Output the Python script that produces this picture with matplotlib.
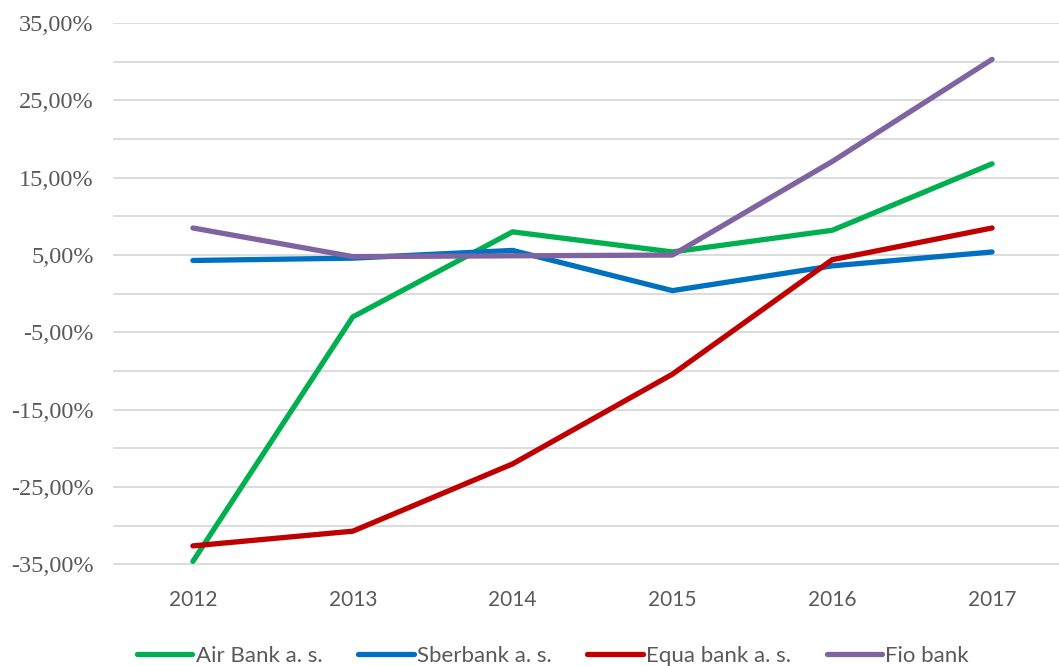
import matplotlib
matplotlib.use("Agg")
import matplotlib.pyplot as plt
from matplotlib.ticker import FuncFormatter, FixedLocator, MultipleLocator

years = ["2012", "2013", "2014", "2015", "2016", "2017"]
air_bank = [-34.6, -3.0, 8.0, 5.4, 8.2, 16.8]
sberbank = [4.3, 4.6, 5.6, 0.4, 3.6, 5.4]
equa_bank = [-32.6, -30.7, -22.0, -10.4, 4.4, 8.5]
fio_bank = [8.5, 4.8, 4.9, 5.0, 17.1, 30.3]
y_ticks = [-35, -25, -15, -5, 5, 15, 25, 35]

series = [
    ("Air Bank a. s.", air_bank, "#00b050"),
    ("Sberbank a. s.", sberbank, "#0070c0"),
    ("Equa bank a. s.", equa_bank, "#c00000"),
    ("Fio bank", fio_bank, "#8064a2"),
]

fig = plt.figure(figsize=(10.59, 6.66), dpi=100)
ax = fig.add_axes([113/1059, 1 - 566/666, 959/1059, (566-23)/666])

x = list(range(len(years)))
for name, vals, col in series:
    ax.plot(x, vals, color=col, lw=3.8, label=name, solid_capstyle="round", solid_joinstyle="miter")

ax.set_xlim(-0.5, len(years) - 0.5)
ax.set_ylim(-35.2, 35)
ax.yaxis.set_major_locator(FixedLocator(y_ticks))
ax.yaxis.set_minor_locator(MultipleLocator(5))
ax.yaxis.set_major_formatter(FuncFormatter(lambda v, p: f"{v:.2f}%".replace(".", ",")))
ax.grid(True, which="both", axis="y", color="#d9d9d9", lw=1.3)
ax.set_axisbelow(True)
for s in ax.spines.values():
    s.set_visible(False)
ax.set_xticks(x)
ax.set_xticklabels(years)
ax.tick_params(axis="both", which="both", length=0)
ax.tick_params(axis="x", pad=17, labelsize=15, labelcolor="#595959", labelfontfamily="Lato")
ax.tick_params(axis="y", pad=14, labelsize=17.5, labelcolor="#595959", labelfontfamily="Liberation Serif")

leg = fig.legend(loc="center", bbox_to_anchor=(553/1059, 1 - 656/666), ncol=4, frameon=False,
                 prop={"family": "Lato", "size": 16}, handlelength=2.5, handletextpad=0.15,
                 columnspacing=1.6, labelcolor="#595959")

fig.savefig("out.png", dpi=100)
